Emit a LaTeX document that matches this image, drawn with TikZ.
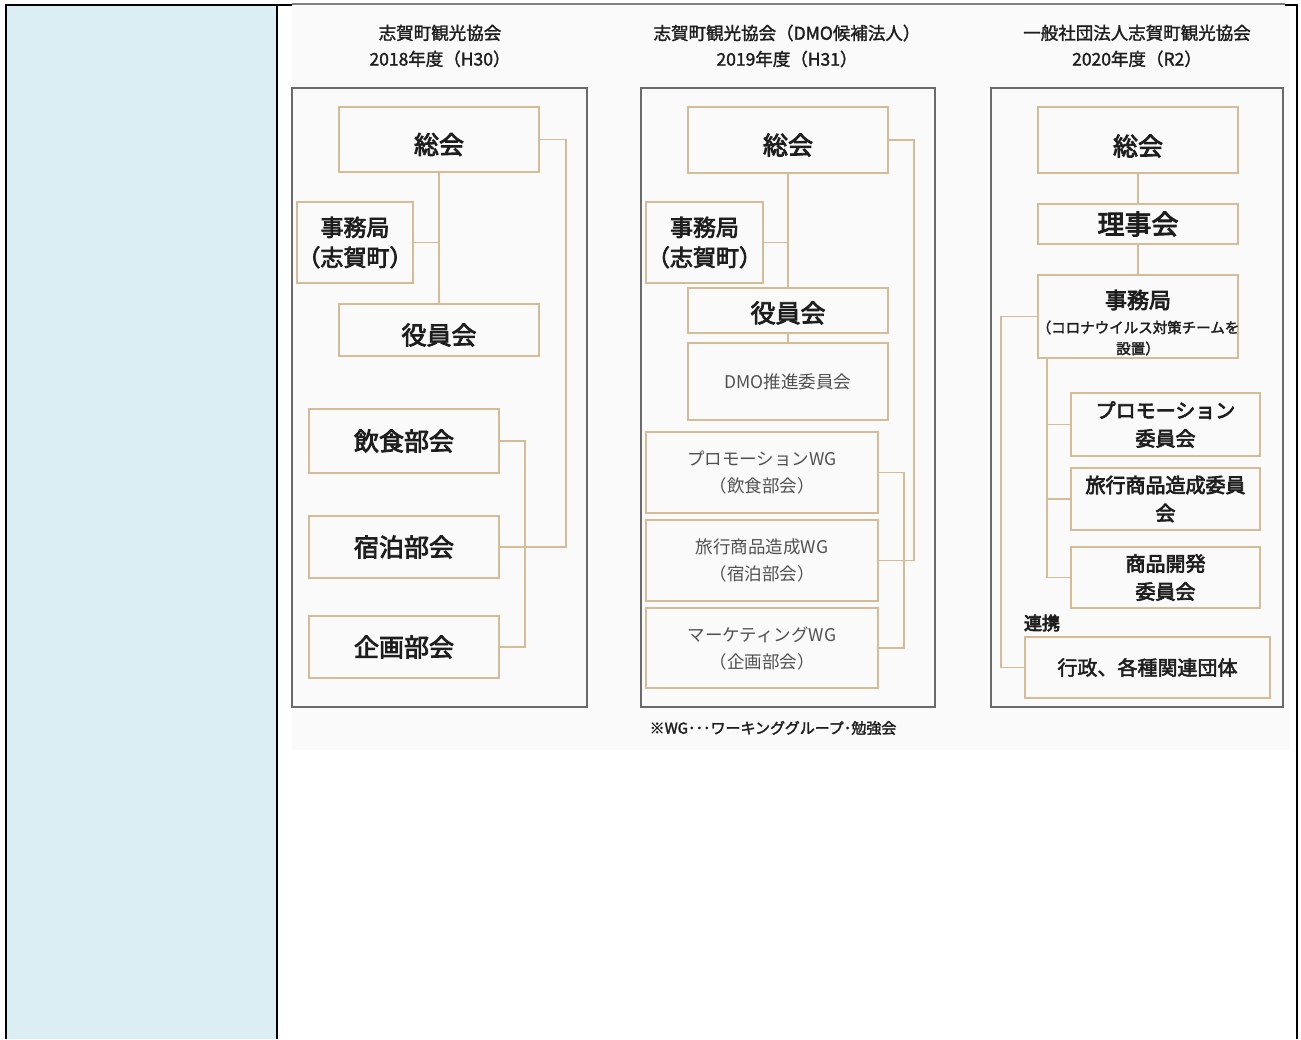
\documentclass[tikz,border=0pt]{standalone}
\usepackage{fontspec}
\setmainfont{Noto Sans CJK JP}
\usetikzlibrary{calc}
\definecolor{cellblue}{HTML}{DBEEF4}
\definecolor{boxtan}{HTML}{D6BC96}
\definecolor{framegray}{HTML}{6A6A6A}
\definecolor{imgbg}{HTML}{FAFAFA}
\definecolor{ink}{HTML}{1E1E1E}
\definecolor{lightink}{HTML}{505050}
\newcommand\orgbox[7][]{\node[boxs,#1,minimum width={(#4-#2)*0.5pt},minimum height={(#5-#3)*0.5pt}] (#6) at ({(#2+#4)/2},{(#3+#5)/2}) {#7};}
\newcommand\lowered[2][2.5pt]{\raisebox{-#1}[\height][\depth]{#2}}
\tikzset{
  heavy/.style={execute at begin node={\special{pdf:literal direct 2 Tr #1 w}},
                execute at end node={\special{pdf:literal direct 0 Tr}}},
  boxs/.style={draw=boxtan, line width=0.75pt, inner sep=0pt, align=center, text=ink},
  frm/.style={draw=framegray, line width=0.8pt, fill=none, text=ink},
  conn/.style={draw=boxtan, line width=0.75pt},
  tline/.style={draw=black, line width=1pt},
  big/.style={font=\fontsize{12.5pt}{15pt}\selectfont, heavy=0.4},
  mid/.style={font=\fontsize{11.5pt}{15pt}\selectfont, heavy=0.35},
  thin/.style={font=\fontsize{8.75pt}{13.5pt}\selectfont, text=lightink},
  pthree/.style={font=\fontsize{10pt}{14pt}\selectfont, heavy=0.35},
  titlet/.style={font=\fontsize{8.75pt}{13pt}\selectfont, heavy=0.15, text=ink, align=center, inner sep=0pt},
}
\begin{document}
\begin{tikzpicture}[x=0.5pt,y=-0.5pt]
\useasboundingbox (0,0) rectangle (1301,1039);
% table
\fill[cellblue] (6,5) rectangle (277,1039);
\fill[imgbg] (292,4) rectangle (1290,750);
\draw[tline] (6,1039) -- (6,5) -- (292,5);
\draw[tline] (1285,5) -- (1297,5) -- (1297,1039);
\draw[tline] (277,5) -- (277,1039);
\draw[draw=gray, line width=0.6pt] (292,4) -- (1285,4);

% ---------- panel 1 ----------
\node[titlet] (t1) at (440,46) {志賀町観光協会\\2018年度（H30）};
\orgbox[frm]{292}{88}{587}{707}{f1}{}
\orgbox[big]{339}{107}{539}{172}{p1so}{\lowered{総会}}
\orgbox[mid]{297}{202}{413}{283}{p1jm}{事務局\\（志賀町）}
\orgbox[big]{339}{304}{539}{356}{p1yk}{\lowered{役員会}}
\orgbox[big]{309}{409}{499}{473}{p1in}{飲食部会}
\orgbox[big]{309}{516}{499}{578}{p1sh}{宿泊部会}
\orgbox[big]{309}{616}{499}{678}{p1kk}{企画部会}
\coordinate (p1r) at (566,0);
\coordinate (p1b) at (525,0);
\draw[conn] (p1so.south) -- (p1yk.north);
\draw[conn] (p1jm.east) -- (p1jm.east -| p1so.south);
\draw[conn] (p1so.east) -- (p1so.east -| p1r) -- (p1r |- p1sh.east) -- (p1sh.east);
\draw[conn] (p1in.east) -- (p1in.east -| p1b) -- (p1b |- p1kk.east) -- (p1kk.east);

% ---------- panel 2 ----------
\node[titlet] (t2) at (787,46) {志賀町観光協会（DMO候補法人）\\2019年度（H31）};
\orgbox[frm]{641}{88}{935}{707}{f2}{}
\orgbox[big]{688}{107}{888}{173}{p2so}{\lowered{総会}}
\orgbox[mid]{646}{202}{763}{283}{p2jm}{事務局\\（志賀町）}
\orgbox[big]{688}{288}{888}{333}{p2yk}{\lowered[1.2pt]{役員会}}
\orgbox[thin]{688}{343}{888}{420}{p2dmo}{DMO推進委員会}
\orgbox[thin]{646}{432}{878}{513}{p2pr}{プロモーションWG\\（飲食部会）}
\orgbox[thin]{646}{520}{878}{601}{p2ry}{旅行商品造成WG\\（宿泊部会）}
\orgbox[thin]{646}{608}{878}{688}{p2mk}{マーケティングWG\\（企画部会）}
\coordinate (p2r) at (914,0);
\coordinate (p2b) at (904,0);
\draw[conn] (p2so.south) -- (p2yk.north);
\draw[conn] (p2yk.south) -- (p2dmo.north);
\draw[conn] (p2jm.east) -- (p2jm.east -| p2so.south);
\draw[conn] (p2so.east) -- (p2so.east -| p2r) -- (p2r |- p2ry.east) -- (p2ry.east);
\draw[conn] (p2pr.east) -- (p2pr.east -| p2b) -- (p2b |- p2mk.east) -- (p2mk.east);
\node[font=\fontsize{7.5pt}{9pt}\selectfont, heavy=0.15, text=ink, inner sep=0pt] (note) at (773,728) {※WG･･･ワーキンググループ･勉強会};

% ---------- panel 3 ----------
\node[titlet] (t3) at (1137,46) {一般社団法人志賀町観光協会\\2020年度（R2）};
\orgbox[frm]{991}{88}{1283}{707}{f3}{}
\orgbox[big]{1038}{107}{1238}{173}{p3so}{\lowered[3pt]{総会}}
\orgbox[font=\fontsize{13.5pt}{15pt}\selectfont, heavy=0.45]{1038}{204}{1238}{244}{p3rj}{理事会}
\orgbox{1038}{275}{1238}{358}{p3jm}{}
\node[font=\fontsize{11pt}{13pt}\selectfont, heavy=0.4, text=ink, inner sep=0pt] (p3jma) at (1138,300) {事務局};
\node[font=\fontsize{7.25pt}{10.5pt}\selectfont, heavy=0.15, text=ink, inner sep=0pt, align=center] (p3jmb) at (1138,338) {（コロナウイルス対策チームを\\設置）};
\orgbox[pthree]{1071}{393}{1260}{456}{p3pr}{プロモーション\\委員会}
\orgbox[pthree]{1071}{468}{1260}{530}{p3ry}{旅行商品造成委員\\会}
\orgbox[pthree]{1071}{547}{1260}{608}{p3sh}{商品開発\\委員会}
\orgbox[font=\fontsize{10pt}{14pt}\selectfont, heavy=0.25]{1025}{637}{1270}{698}{p3gs}{行政、各種関連団体}
\node[font=\fontsize{9pt}{11pt}\selectfont, heavy=0.35, text=ink, inner sep=0pt] (p3rk) at (1042,623) {連携};
\coordinate (p3l) at (1001,0);
\coordinate (p3b) at (1047,0);
\draw[conn] (p3so.south) -- (p3rj.north);
\draw[conn] (p3rj.south) -- (p3jm.north);
\draw[conn] (p3jm.west) -- (p3jm.west -| p3l) -- (p3l |- p3gs.west) -- (p3gs.west);
\draw[conn] (p3b |- p3jm.south) -- (p3b |- p3sh.west) -- (p3sh.west);
\draw[conn] (p3b |- p3pr.west) -- (p3pr.west);
\draw[conn] (p3b |- p3ry.west) -- (p3ry.west);
\end{tikzpicture}
\end{document}
